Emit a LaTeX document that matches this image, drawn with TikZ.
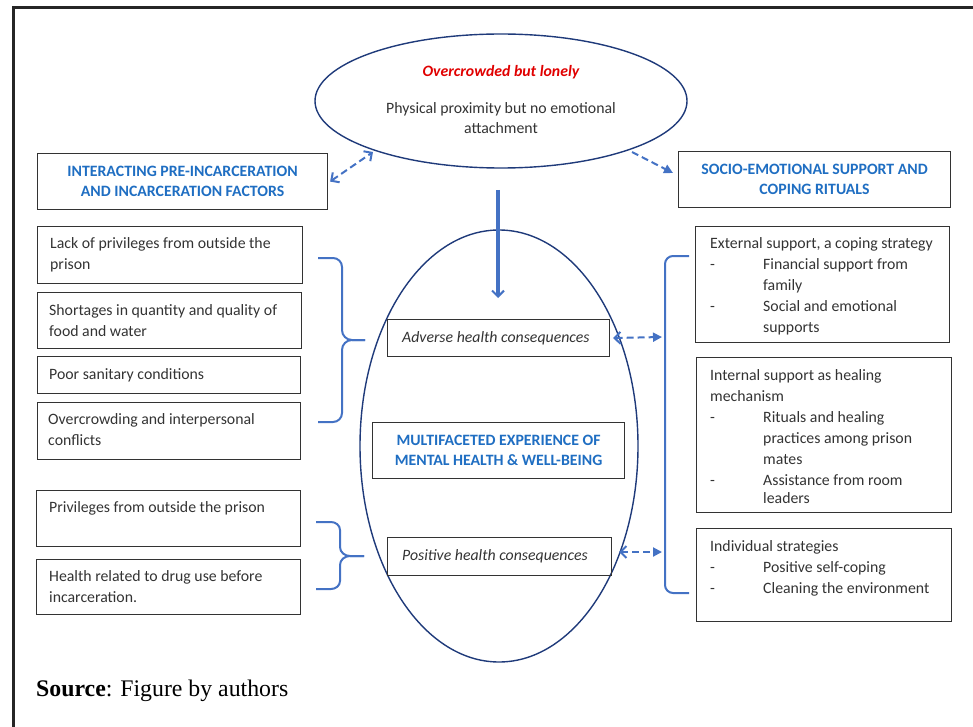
\documentclass[tikz,border=0pt]{standalone}
\usepackage{fontspec}
\setmainfont{Carlito}
\newfontfamily\srcfont{Liberation Serif}
\usetikzlibrary{arrows.meta,calc,positioning}
\definecolor{ttlblue}{HTML}{1F6EC2}
\definecolor{arrblue}{HTML}{4472C4}
\definecolor{navy}{HTML}{1F3A7A}
\definecolor{txtgrey}{HTML}{333333}
\definecolor{redtxt}{HTML}{E00000}
\tikzset{
  x=1pt,y=-1pt,
  box/.style={draw=black!80,line width=1.1pt,rectangle,inner sep=0pt,anchor=north west},
  txt/.style={inner sep=0pt,anchor=north west,align=left,font=\fontsize{15.8}{21}\selectfont,text=txtgrey},
  ttl/.style={inner sep=0pt,align=center,font=\fontsize{15.8}{20.5}\selectfont\bfseries,text=ttlblue},
  brc/.style={draw=arrblue,line width=2pt},
  dsh/.style={draw=arrblue,line width=2pt,dash pattern=on 7pt off 4pt},
  fhead/.tip={Triangle[length=9pt,width=9pt]},
  ohead/.tip={Straight Barb[length=6pt,width=12pt,line width=2pt]},
  itx/.style={inner sep=0pt,anchor=west,font=\fontsize{15.8}{19}\selectfont\itshape,text=txtgrey}
}
\newcommand{\ind}{\makebox[53pt][l]{-}}
\newcommand{\sind}{\hspace*{53pt}}
\begin{document}
\begin{tikzpicture}
\useasboundingbox (0,0) rectangle (973,727);
% frame
\draw[line width=3pt,black!85] (13,735) -- (13,8) -- (980,8);
% ellipses
\draw[navy,line width=1.4pt] (501,101) ellipse [x radius=186, y radius=67];
\node[inner sep=0pt] (topell) at (501,101) {};
\draw[navy,line width=1.4pt] (499,446) ellipse [x radius=139, y radius=216];
\coordinate (ellL) at (373,152);
\coordinate (ellR) at (632,152);
\node[inner sep=0pt,font=\fontsize{15.8}{19}\selectfont\bfseries\itshape,text=redtxt] (oc) at (501,72) {Overcrowded but lonely};
\node[inner sep=0pt,align=center,font=\fontsize{15.8}{20.5}\selectfont,text=txtgrey] (pp) at (501,118) {Physical proximity but no emotional\\attachment};
% title boxes
\node[box,minimum width=290,minimum height=56] (lt) at (37,153) {};
\node[ttl] at (lt.center) {INTERACTING PRE-INCARCERATION\\AND INCARCERATION FACTORS};
\node[box,minimum width=272,minimum height=56] (rt) at (678,151) {};
\node[ttl] at (rt.center) {SOCIO-EMOTIONAL SUPPORT AND\\COPING RITUALS};
\draw[dsh,ohead-ohead] (lt.east) ++(2,0) coordinate (ltE) -- (ellL);
\draw[dsh,-fhead] (ellR) -- (673,173) coordinate (rtW);
% central arrow
\coordinate (arS) at (498,190);
\coordinate (arE) at (498,298);
\draw[arrblue,line width=3.5pt,-ohead] (arS) -- (arE);
% inner boxes
\node[box,minimum width=222,minimum height=37] (adv) at (387,319) {};
\node[itx] at ($(adv.west)+(15,0)$) {Adverse health consequences};
\node[box,minimum width=252,minimum height=56] (mul) at (372,422) {};
\node[ttl] at (mul.center) {MULTIFACETED EXPERIENCE OF\\MENTAL HEALTH \& WELL-BEING};
\node[box,minimum width=224,minimum height=38] (pos) at (387,537) {};
\node[itx] at ($(pos.west)+(15,0)$) {Positive health consequences};
% left boxes
\node[box,minimum width=265,minimum height=57] (l1) at (37,226) {};
\node[txt] at ($(l1.north west)+(13,11.5)$) {Lack of privileges from outside the\\prison};
\node[box,minimum width=264,minimum height=56] (l2) at (37,292) {};
\node[txt] at ($(l2.north west)+(12,12)$) {Shortages in quantity and quality of\\food and water};
\node[box,minimum width=263,minimum height=37] (l3) at (37,356) {};
\node[txt] at ($(l3.north west)+(12,12)$) {Poor sanitary conditions};
\node[box,minimum width=263,minimum height=57] (l4) at (37,402) {};
\node[txt] at ($(l4.north west)+(11,11.5)$) {Overcrowding and interpersonal\\conflicts};
\node[box,minimum width=264,minimum height=56] (l5) at (36,490) {};
\node[txt] at ($(l5.north west)+(13,11.5)$) {Privileges from outside the prison};
\node[box,minimum width=264,minimum height=55] (l6) at (36,559) {};
\node[txt] at ($(l6.north west)+(13,11.5)$) {Health related to drug use before\\incarceration.};
% braces
\coordinate (b1tip) at (365,340);
\draw[brc] (318,258) -- (333,258) to[out=0,in=90] (342,267) -- (342,330) to[out=-90,in=180] (352,340) -- (b1tip);
\draw[brc] (b1tip) -- (352,340) to[out=180,in=90] (342,350) -- (342,413) to[out=-90,in=0] (333,422) -- (318,422);
\coordinate (b2tip) at (364,556);
\draw[brc] (316,522) -- (331,522) to[out=0,in=90] (340,530) -- (340,547) to[out=-90,in=180] (350,556) -- (b2tip);
\draw[brc] (b2tip) -- (350,556) to[out=180,in=90] (340,565) -- (340,581) to[out=-90,in=0] (331,589) -- (316,589);
% right bracket
\draw[brc,rounded corners=8pt] (689,256) -- (665,256) -- (665,593) -- (689,593);
\coordinate (brA) at (662,337);
\coordinate (brP) at (662,552);
\draw[dsh,ohead-fhead] ($(adv.east)+(3,0)$) -- (brA);
\draw[dsh,ohead-fhead] (619,552) -- (brP);
% right boxes
\node[box,minimum width=254,minimum height=116] (r1) at (695,226) {};
\node[txt] at ($(r1.north west)+(15,11.5)$) {External support, a coping strategy\\
\ind Financial support from\\\sind family\\\ind Social and emotional\\\sind supports};
\node[box,minimum width=255,minimum height=155] (r2) at (696,357) {};
\node[txt] at ($(r2.north west)+(14,12)$) {Internal support as healing\\mechanism\\
\ind Rituals and healing\\\sind practices among prison\\\sind mates\\\ind Assistance from room\\[-3pt]\sind leaders};
\node[box,minimum width=255,minimum height=93] (r3) at (696,528) {};
\node[txt] at ($(r3.north west)+(14,12)$) {Individual strategies\\\ind Positive self-coping\\\ind Cleaning the environment};
% source
\node[inner sep=0pt,anchor=west,font=\srcfont\fontsize{23.8}{27}\selectfont] (src) at (36,691) {\textbf{Source}: Figure by authors};
\end{tikzpicture}
\end{document}
